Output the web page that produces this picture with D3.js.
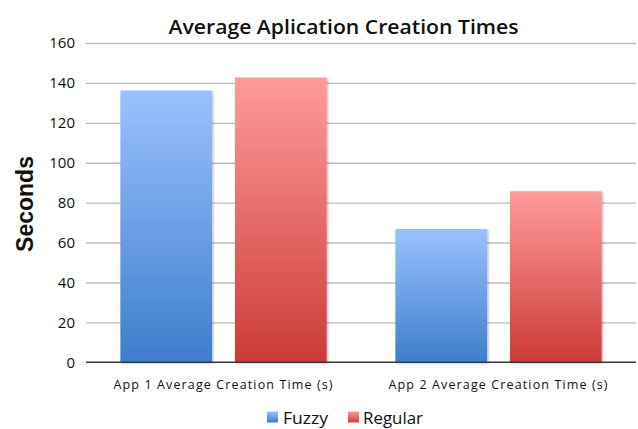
<!DOCTYPE html>
<html>
<head>
<meta charset="utf-8">
<script src="https://cdn.jsdelivr.net/npm/d3@7"></script>
<style>
  html, body { margin: 0; padding: 0; background: #fff; }
  svg { display: block; }
</style>
</head>
<body>
<svg id="chart" width="638" height="429"></svg>
<script>
// Chart data
const categories = ["App 1 Average Creation Time (s)", "App 2 Average Creation Time (s)"];
const seriesNames = ["Fuzzy", "Regular"];
const fuzzy = [136.2, 66.8];
const regular = [142.7, 85.7];
const yTicks = [0, 20, 40, 60, 80, 100, 120, 140, 160];

const svg = d3.select("#chart");
const W = 638, H = 429;
const margin = { left: 86, right: 2, top: 43, bottom: 67 };

const x0 = d3.scaleBand().domain(categories).range([margin.left, W - margin.right]).paddingInner(0).paddingOuter(0);
const x1 = d3.scaleBand().domain(seriesNames).range([0, x0.bandwidth()]).paddingInner(0.2).paddingOuter(0.3);
const y = d3.scaleLinear().domain([0, 160]).range([H - margin.bottom + 0.3, margin.top]);

const defs = svg.append("defs");
const grads = {
  Fuzzy: ["#9ac1ff", "#3d7ecc"],
  Regular: ["#ff9b9a", "#cc3b37"]
};
Object.entries(grads).forEach(([k, [top, bottom]]) => {
  const g = defs.append("linearGradient").attr("id", "grad-" + k)
    .attr("x1", 0).attr("y1", 0).attr("x2", 0).attr("y2", 1);
  g.append("stop").attr("offset", "0%").attr("stop-color", top);
  g.append("stop").attr("offset", "100%").attr("stop-color", bottom);
});
const shadow = defs.append("filter").attr("id", "shadow")
  .attr("x", "-10%").attr("y", "-10%").attr("width", "130%").attr("height", "130%");
shadow.append("feDropShadow").attr("dx", 1.2).attr("dy", 1).attr("stdDeviation", 1.2)
  .attr("flood-color", "#000").attr("flood-opacity", 0.3);

// Gridlines
const yAxis = d3.axisLeft(y).tickValues(yTicks.filter(d => d > 0)).tickSize(-(W - margin.right - margin.left)).tickFormat("");
svg.append("g").attr("transform", `translate(${margin.left},0)`).call(yAxis)
  .call(g => g.select(".domain").remove())
  .call(g => g.selectAll("line").attr("stroke", "#bdbdbd").attr("stroke-width", 1.4));

// Y tick labels
svg.append("g").selectAll("text").data(yTicks).join("text")
  .attr("x", 75).attr("y", d => y(d)).attr("dy", "0.35em")
  .attr("text-anchor", "end")
  .attr("font-family", "Open Sans, sans-serif").attr("font-size", 15).attr("fill", "#111")
  .text(d => d);

// Bars
const rows = categories.map((c, i) => ({ cat: c, vals: [{ s: "Fuzzy", v: fuzzy[i] }, { s: "Regular", v: regular[i] }] }));
svg.append("g").selectAll("g").data(rows).join("g")
  .attr("transform", d => `translate(${x0(d.cat)},0)`)
  .selectAll("rect").data(d => d.vals).join("rect")
  .attr("x", d => x1(d.s)).attr("width", x1.bandwidth())
  .attr("y", d => y(d.v)).attr("height", d => y(0) - y(d.v))
  .attr("fill", d => `url(#grad-${d.s})`)
  .attr("filter", "url(#shadow)");

// Baseline axis
svg.append("line")
  .attr("x1", margin.left).attr("x2", W - margin.right)
  .attr("y1", y(0)).attr("y2", y(0))
  .attr("stroke", "#3a3a3a").attr("stroke-width", 1.4);

// Category labels
svg.append("g").selectAll("text").data(categories).join("text")
  .attr("x", d => x0(d) + x0.bandwidth() / 2 - 0.5).attr("y", 389)
  .attr("text-anchor", "middle")
  .attr("font-family", "Open Sans, sans-serif").attr("font-size", 12.5).attr("fill", "#111")
  .attr("textLength", 219).attr("lengthAdjust", "spacing")
  .text(d => d);

// Title
svg.append("text")
  .attr("x", 343.5).attr("y", 34)
  .attr("text-anchor", "middle")
  .attr("font-family", "Open Sans, sans-serif").attr("font-weight", 600).attr("font-size", 19).attr("fill", "#111")
  .attr("textLength", 350).attr("lengthAdjust", "spacingAndGlyphs")
  .text("Average Aplication Creation Times");

// Y axis title
svg.append("text")
  .attr("transform", "translate(33,204) rotate(-90)")
  .attr("text-anchor", "middle")
  .attr("font-family", "Liberation Sans, Arial, sans-serif").attr("font-weight", "bold").attr("font-size", 23).attr("fill", "#111")
  .text("Seconds");

// Legend
const legendItems = [
  { name: "Fuzzy", sx: 267, tx: 283, tl: 45 },
  { name: "Regular", sx: 348, tx: 363, tl: 60 }
];
const lg = svg.append("g");
lg.selectAll("rect").data(legendItems).join("rect")
  .attr("x", d => d.sx).attr("y", 411.5).attr("width", 11).attr("height", 11)
  .attr("fill", d => `url(#grad-${d.name})`);
lg.selectAll("text").data(legendItems).join("text")
  .attr("x", d => d.tx).attr("y", 424)
  .attr("font-family", "Open Sans, sans-serif").attr("font-size", 17).attr("fill", "#111")
  .attr("textLength", d => d.tl).attr("lengthAdjust", "spacingAndGlyphs")
  .text(d => d.name);
</script>
</body>
</html>
